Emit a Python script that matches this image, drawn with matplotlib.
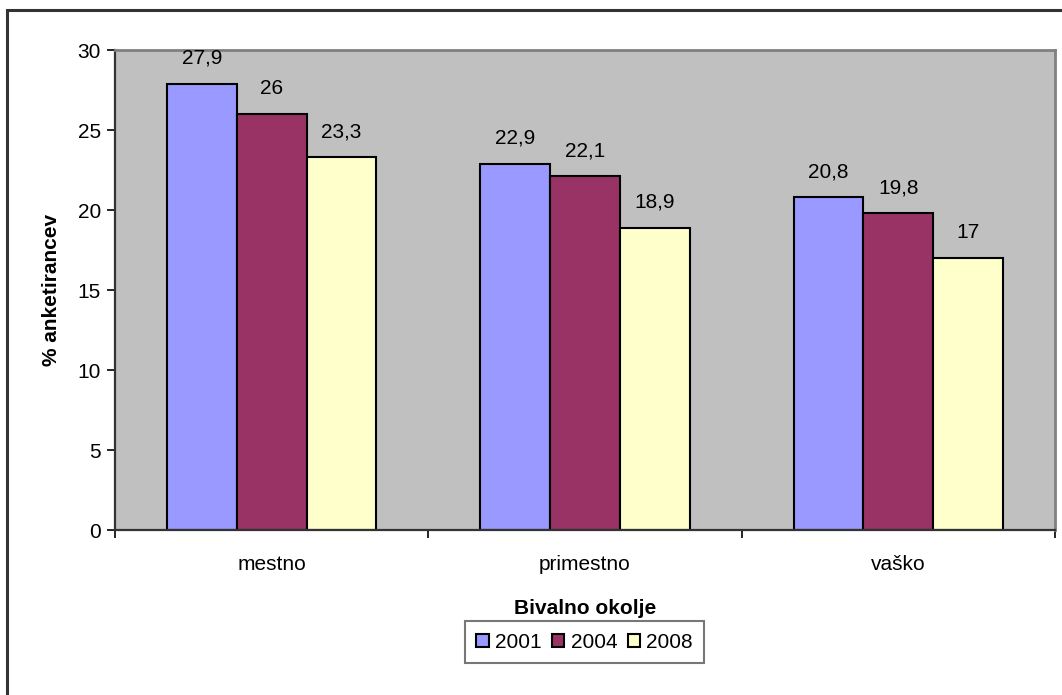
import matplotlib.pyplot as plt
import numpy as np
from matplotlib.patches import Rectangle

categories = ["mestno", "primestno", "vaško"]
years = ["2001", "2004", "2008"]
values_2001 = [27.9, 22.9, 20.8]
values_2004 = [26.0, 22.1, 19.8]
values_2008 = [23.3, 18.9, 17.0]
colors = ["#9999FF", "#993366", "#FFFFCC"]

plt.rcParams["font.family"] = ["Liberation Sans", "DejaVu Sans"]
plt.rcParams["font.size"] = 15

fig = plt.figure(figsize=(10.62, 6.95), dpi=100)
ax = fig.add_axes([115 / 1062, 1 - 530 / 695, 940 / 1062, 480 / 695])
ax.set_facecolor("#C0C0C0")

# outer chart border (runs off the right and bottom edges)
fig.patches.append(Rectangle((7 / 1062, -0.05), 1.2, (695 - 10) / 695 + 0.05,
                             transform=fig.transFigure, fill=False,
                             edgecolor="#333333", linewidth=2.2, zorder=0))

x = np.arange(len(categories))
width = 0.223
series = [values_2001, values_2004, values_2008]
bars = []
for i, (vals, col, yr) in enumerate(zip(series, colors, years)):
    b = ax.bar(x + (i - 1) * width, vals, width, color=col, edgecolor="black",
               linewidth=1.5, label=yr, zorder=2)
    bars.append(b)
    for rect, v in zip(b, vals):
        ax.annotate(f"{v:g}".replace(".", ","),
                    (rect.get_x() + rect.get_width() / 2, v),
                    xytext=(0, 14.5), textcoords="offset points",
                    ha="center", va="baseline")

ax.set_xlim(-0.5, 2.5)
ax.set_ylim(0, 30)
ax.set_yticks(range(0, 31, 5))
ax.set_xticks(x)
ax.set_xticklabels(categories)
ax.set_xticks([-0.5, 0.5, 1.5, 2.5], minor=True)
ax.tick_params(axis="x", which="major", length=0, pad=18)
ax.tick_params(axis="x", which="minor", length=6, width=1.2, direction="out")
ax.tick_params(axis="y", length=6, width=1.2, direction="out", pad=4)

for s in ["left", "bottom"]:
    ax.spines[s].set_color("#333333")
    ax.spines[s].set_linewidth(1.6)
for s in ["top", "right"]:
    ax.spines[s].set_color("#808080")
    ax.spines[s].set_linewidth(2.0)

ax.set_ylabel("% anketirancev", fontweight="bold", labelpad=12)
ax.set_xlabel("Bivalno okolje", fontweight="bold", labelpad=18)

leg = fig.legend(handles=bars, labels=years, ncol=3,
                 loc="center", bbox_to_anchor=(584.5 / 1062, 1 - 642 / 695),
                 frameon=True, fancybox=False, borderpad=0.55,
                 handlelength=0.6, handleheight=0.6, handletextpad=0.3,
                 columnspacing=0.5, fontsize=15)
leg.get_frame().set_edgecolor("#555555")
leg.get_frame().set_linewidth(1.5)

fig.savefig("out.png", dpi=100)
